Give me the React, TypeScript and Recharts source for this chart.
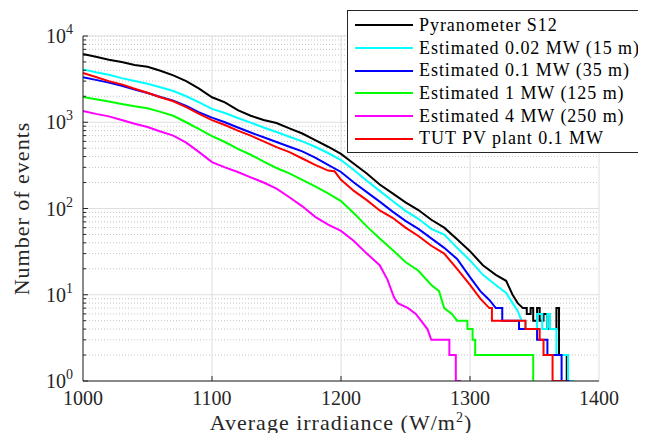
import React from "react";
import {
  LineChart,
  Line,
  XAxis,
  YAxis,
  CartesianGrid,
  Legend,
  Label,
} from "recharts";

const FONT = '"Liberation Serif", "DejaVu Serif", serif';
const INK = "#262626";

type Pt = [number, number];

// x: average irradiance (W/m2), y: number of events
const irradianceTicks = [1000, 1100, 1200, 1300, 1400];
const decadeTicks = [1, 10, 100, 1000, 10000];
const minorTicks = decadeTicks
  .slice(0, -1)
  .flatMap((d) => [2, 3, 4, 5, 6, 7, 8, 9].map((k) => k * d));
const allYTicks = [...decadeTicks, ...minorTicks].sort((a, b) => a - b);

const pyranometer: Pt[] = [
  [1000, 6200], [1010, 5750], [1020, 5300], [1030, 5000], [1040, 4600],
  [1050, 4400], [1060, 3950], [1070, 3500], [1080, 3000], [1090, 2450],
  [1100, 1950], [1110, 1700], [1120, 1380], [1130, 1190], [1140, 1060],
  [1150, 980], [1160, 850], [1170, 740], [1180, 620], [1190, 520],
  [1200, 430], [1210, 330], [1220, 255], [1230, 190], [1240, 150],
  [1250, 118], [1260, 96], [1270, 74], [1280, 60], [1290, 44],
  [1300, 32], [1310, 22], [1320, 17], [1328, 14.5], [1333, 10],
  [1337, 8], [1341, 7], [1344, 7], [1344, 6], [1347, 6], [1347, 7],
  [1349, 7], [1349, 5], [1352, 5], [1352, 7], [1354, 7], [1354, 5],
  [1357, 5], [1357, 6], [1360, 6], [1360, 4], [1367, 4], [1367, 7],
  [1369, 7], [1369, 2], [1375, 2], [1375, 1], [1378, 1],
];

const est002: Pt[] = [
  [1000, 4100], [1010, 3800], [1020, 3550], [1030, 3250], [1040, 3000],
  [1050, 2800], [1060, 2550], [1070, 2300], [1080, 2000], [1090, 1700],
  [1100, 1430], [1110, 1280], [1120, 1120], [1130, 990], [1140, 870],
  [1150, 770], [1160, 680], [1170, 600], [1180, 520], [1190, 440],
  [1200, 365], [1210, 280], [1220, 210], [1230, 160], [1240, 122],
  [1250, 94], [1260, 76], [1270, 58], [1280, 50], [1290, 35],
  [1300, 25], [1310, 17], [1320, 13], [1328, 10.5], [1333, 8],
  [1337, 6.5], [1340, 5], [1343, 5], [1343, 4], [1352, 4], [1352, 6],
  [1356, 6], [1356, 4], [1360, 4], [1360, 6], [1362, 6], [1362, 4],
  [1367, 4], [1367, 2], [1376, 2], [1376, 1], [1381, 1],
];

const est01: Pt[] = [
  [1000, 3330], [1010, 3100], [1020, 2880], [1030, 2650], [1040, 2400],
  [1050, 2180], [1060, 1960], [1070, 1780], [1080, 1550], [1090, 1300],
  [1100, 1130], [1110, 1000], [1120, 870], [1130, 760], [1140, 670],
  [1150, 590], [1160, 520], [1170, 460], [1180, 390], [1190, 320],
  [1200, 265], [1210, 200], [1220, 155], [1230, 120], [1240, 92],
  [1250, 72], [1260, 58], [1270, 45], [1280, 35], [1290, 26],
  [1300, 16], [1308, 11], [1315, 8.7], [1320, 7], [1325, 7], [1325, 5],
  [1338, 5], [1338, 4], [1352, 4], [1352, 3], [1360, 3], [1360, 2],
  [1371, 2], [1371, 1], [1377, 1],
];

const est1: Pt[] = [
  [1000, 1960], [1010, 1850], [1020, 1740], [1030, 1630], [1040, 1530],
  [1050, 1450], [1060, 1320], [1070, 1190], [1080, 1000], [1090, 830],
  [1100, 690], [1110, 590], [1120, 490], [1130, 420], [1140, 350],
  [1150, 295], [1160, 255], [1170, 215], [1180, 180], [1190, 150],
  [1200, 122], [1210, 88], [1220, 62], [1230, 45], [1240, 33],
  [1250, 24], [1260, 19], [1270, 13], [1276, 11], [1280, 7],
  [1286, 6], [1290, 5], [1298, 5], [1298, 4], [1302, 4], [1302, 3],
  [1304, 3], [1304, 2], [1349, 2], [1349, 1], [1350, 1],
];

const est4: Pt[] = [
  [1000, 1350], [1010, 1250], [1020, 1170], [1030, 1060], [1040, 960],
  [1050, 880], [1060, 780], [1070, 700], [1080, 580], [1090, 450],
  [1100, 345], [1110, 300], [1120, 265], [1130, 230], [1140, 200],
  [1150, 170], [1160, 135], [1170, 106], [1180, 80], [1190, 65],
  [1200, 55], [1210, 42], [1220, 30], [1230, 22], [1236, 15],
  [1241, 9.4], [1244, 8], [1252, 7], [1258, 6], [1262, 5],
  [1267, 4], [1270, 3], [1284, 3], [1284, 2], [1289, 2], [1289, 1],
  [1293, 1],
];

const tutPlant: Pt[] = [
  [1000, 3720], [1010, 3350], [1020, 3000], [1030, 2750], [1040, 2450],
  [1050, 2200], [1060, 1950], [1070, 1750], [1080, 1500], [1090, 1250],
  [1100, 1060], [1110, 930], [1120, 800], [1130, 700], [1140, 600],
  [1150, 515], [1160, 450], [1170, 380], [1180, 320], [1190, 275],
  [1195, 270], [1200, 215], [1210, 160], [1220, 125], [1230, 95],
  [1240, 78], [1250, 60], [1260, 48], [1270, 37], [1280, 30],
  [1290, 20], [1300, 13], [1308, 9], [1315, 7], [1317, 7], [1317, 5],
  [1343, 5], [1343, 4], [1354, 4], [1354, 3], [1357, 3], [1357, 2],
  [1364, 2], [1364, 1], [1374, 1],
];

const SERIES = [
  { name: "Pyranometer S12", color: "#000000", points: pyranometer },
  { name: "Estimated 0.02 MW (15 m)", color: "#00ffff", points: est002 },
  { name: "Estimated 0.1 MW (35 m)", color: "#0000ff", points: est01 },
  { name: "Estimated 1 MW (125 m)", color: "#00ff00", points: est1 },
  { name: "Estimated 4 MW (250 m)", color: "#ff00ff", points: est4 },
  { name: "TUT PV plant 0.1 MW", color: "#ff0000", points: tutPlant },
];

const isDecade = (v: number) => decadeTicks.includes(v);

function BottomTick({ x, y, payload }: any) {
  const edge = payload.value === 1000 || payload.value === 1400;
  return (
    <g>
      {!edge && <line x1={x} x2={x} y1={y} y2={y - 5} stroke={INK} />}
      <text x={x} y={y + 24} textAnchor="middle" fontSize={20} fill={INK}>
        {payload.value}
      </text>
    </g>
  );
}

function TopTick({ x, y, payload }: any) {
  const edge = payload.value === 1000 || payload.value === 1400;
  if (edge) return null;
  return <line x1={x} x2={x} y1={y} y2={y + 5} stroke={INK} />;
}

function LeftTick({ x, y, payload }: any) {
  const v = payload.value;
  const major = isDecade(v);
  const exp = Math.round(Math.log10(v));
  return (
    <g>
      <line x1={x} x2={x + (major ? 5 : 3)} y1={y} y2={y} stroke={INK} />
      {major && (
        <text x={x - 10} y={y + 7} textAnchor="end" fontSize={20} fill={INK}>
          10
          <tspan dy={-9} fontSize={14}>
            {exp}
          </tspan>
        </text>
      )}
    </g>
  );
}

function RightTick({ x, y, payload }: any) {
  const major = isDecade(payload.value);
  return <line x1={x} x2={x - (major ? 5 : 3)} y1={y} y2={y} stroke={INK} />;
}

function LegendBox() {
  return (
    <div
      style={{
        width: 320,
        height: 143,
        boxSizing: "border-box",
        border: `1px solid ${INK}`,
        background: "#fff",
        paddingTop: 3,
        fontFamily: FONT,
        fontSize: 18,
        color: "#000",
      }}
    >
      {SERIES.map((s) => (
        <div
          key={s.name}
          style={{ height: 22.7, display: "flex", alignItems: "center" }}
        >
          <span
            style={{
              display: "inline-block",
              width: 58,
              height: 2,
              background: s.color,
              marginLeft: 7,
              marginRight: 6,
            }}
          />
          <span style={{ letterSpacing: 0.95, whiteSpace: "nowrap" }}>
            {s.name}
          </span>
        </div>
      ))}
    </div>
  );
}

export default function App() {
  return (
    <div
      style={{
        margin: -8,
        width: 646,
        height: 441,
        overflow: "hidden",
        position: "relative",
        background: "#fff",
      }}
    >
      <LineChart
        width={646}
        height={441}
        margin={{ top: 36, right: 47, bottom: 0, left: 0 }}
        style={{ fontFamily: FONT }}
      >
        <CartesianGrid
          yAxisId="minor"
          vertical={false}
          stroke="#c4c4c4"
          strokeDasharray="1 2"
        />
        <CartesianGrid yAxisId="major" stroke="#dedede" />

        <XAxis
          dataKey="x"
          type="number"
          domain={[1000, 1400]}
          ticks={irradianceTicks}
          interval={0}
          height={60}
          tickSize={0}
          tickMargin={0}
          tick={<BottomTick />}
          axisLine={{ stroke: INK }}
          allowDuplicatedCategory={false}
        >
          <Label
            content={({ viewBox }: any) => (
              <text
                x={viewBox.x + viewBox.width / 2}
                y={430}
                textAnchor="middle"
                fontSize={22}
                letterSpacing={1}
                fill={INK}
              >
                Average irradiance (W/m
                <tspan dy={-8} fontSize={14}>
                  2
                </tspan>
                <tspan dy={8}>)</tspan>
              </text>
            )}
          />
        </XAxis>
        <XAxis
          xAxisId="top"
          orientation="top"
          type="number"
          domain={[1000, 1400]}
          ticks={irradianceTicks}
          interval={0}
          height={0}
          tickSize={0}
          tickMargin={0}
          tick={<TopTick />}
          axisLine={{ stroke: INK }}
        />
        <YAxis
          scale="log"
          type="number"
          domain={[1, 10000]}
          allowDataOverflow
          ticks={allYTicks}
          interval={0}
          width={83}
          tickSize={0}
          tickMargin={0}
          tick={<LeftTick />}
          axisLine={{ stroke: INK }}
        >
          <Label
            content={({ viewBox }: any) => {
              const cx = 21;
              const cy = viewBox.y + viewBox.height / 2;
              return (
                <text
                  x={cx}
                  y={cy}
                  transform={`rotate(-90 ${cx} ${cy})`}
                  textAnchor="middle"
                  dominantBaseline="central"
                  fontSize={22}
                  letterSpacing={1}
                  fill={INK}
                >
                  Number of events
                </text>
              );
            }}
          />
        </YAxis>
        <YAxis
          yAxisId="right"
          orientation="right"
          scale="log"
          type="number"
          domain={[1, 10000]}
          allowDataOverflow
          ticks={allYTicks}
          interval={0}
          width={0}
          tickSize={0}
          tickMargin={0}
          tick={<RightTick />}
          axisLine={{ stroke: INK }}
        />
        <YAxis
          yAxisId="minor"
          scale="log"
          type="number"
          domain={[1, 10000]}
          allowDataOverflow
          ticks={minorTicks}
          interval={0}
          hide
        />
        <YAxis
          yAxisId="major"
          scale="log"
          type="number"
          domain={[1, 10000]}
          allowDataOverflow
          ticks={decadeTicks}
          interval={0}
          hide
        />

        {SERIES.map((s) => (
          <Line
            key={s.name}
            name={s.name}
            data={s.points.map(([x, y]) => ({ x, y }))}
            dataKey="y"
            type="linear"
            stroke={s.color}
            strokeWidth={2}
            dot={false}
            activeDot={false}
            isAnimationActive={false}
          />
        ))}

        <Legend
          layout="vertical"
          align="center"
          verticalAlign="middle"
          wrapperStyle={{ left: 347, top: 10, width: 320, height: 143 }}
          content={() => <LegendBox />}
        />
      </LineChart>
    </div>
  );
}
